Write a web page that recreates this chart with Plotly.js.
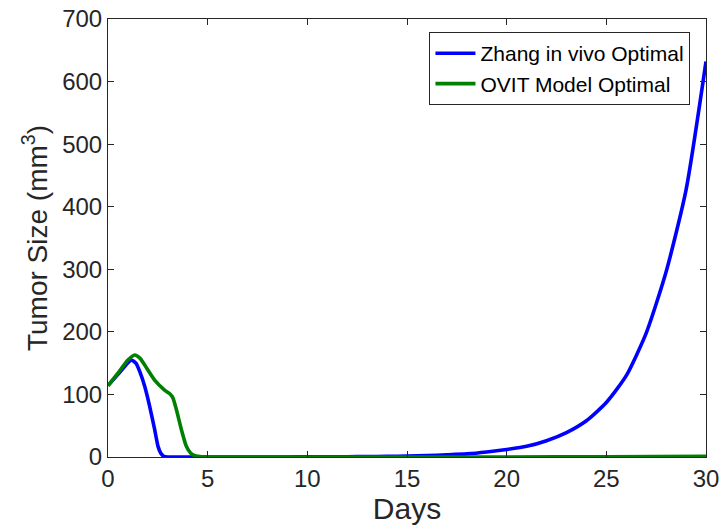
<!DOCTYPE html>
<html>
<head>
<meta charset="utf-8">
<script src="https://cdn.plot.ly/plotly-3.0.1.min.js"></script>
<style>html,body{margin:0;padding:0;background:#fff;}#chart{width:722px;height:525px;}</style>
</head>
<body>
<div id="chart"></div>
<script>
// Zhang in vivo Optimal (blue)
const zhangDays = [0, 0.5, 0.9, 1.17, 1.4, 1.6, 1.84, 2.09, 2.34, 2.51, 2.65, 2.8, 3, 4, 5, 6, 7, 8, 9, 10, 11, 12, 13, 14, 15, 16, 17, 18, 19, 20, 21, 22, 23, 24, 25, 26, 27, 28, 29, 30];
const zhangSize = [114, 132, 147, 155, 150, 136, 113, 81, 44, 17, 6, 1, 0, 0, 0, 0, 0, 0.1, 0.1, 0.2, 0.3, 0.5, 0.7, 1, 1.5, 2.3, 3.5, 5, 8, 12, 17, 26, 39, 58, 87, 130, 198, 296, 427, 632];
// OVIT Model Optimal (green)
const ovitDays = [0, 0.5, 1.0, 1.34, 1.6, 1.84, 2.34, 2.84, 3.1, 3.25, 3.43, 3.68, 3.93, 4.15, 4.4, 4.7, 5, 10, 15, 20, 25, 30];
const ovitSize = [114, 134, 155, 163, 158, 147, 123, 107, 101, 95, 76, 44, 17, 6, 1.5, 0.3, 0, 0, 0, 0, 0.3, 1];

const xTicks = [0, 5, 10, 15, 20, 25, 30];
const yTicks = [0, 100, 200, 300, 400, 500, 600, 700];

const axisColor = '#262626';
const font = 'Liberation Sans, Arial, Helvetica, sans-serif';

const traces = [
  {x: zhangDays, y: zhangSize, type: 'scatter', mode: 'lines', name: 'Zhang in vivo Optimal',
   line: {color: '#0000FF', width: 3.6, shape: 'spline', smoothing: 0.6}},
  {x: ovitDays, y: ovitSize, type: 'scatter', mode: 'lines', name: 'OVIT Model Optimal',
   line: {color: '#008000', width: 3.6, shape: 'spline', smoothing: 0.6}}
];

const layout = {
  width: 722, height: 525,
  margin: {l: 108, r: 16, t: 18.5, b: 67.5},
  paper_bgcolor: '#fff', plot_bgcolor: '#fff',
  font: {family: font, color: axisColor},
  showlegend: true,
  legend: {x: 0.974, xanchor: 'right', y: 0.97, yanchor: 'top',
    bgcolor: '#fff', bordercolor: '#262626', borderwidth: 1,
    font: {family: font, size: 21, color: '#000'}, tracegroupgap: 0, itemwidth: 40},
  xaxis: {range: [0, 30], tickvals: xTicks, ticktext: xTicks.map(String),
    showgrid: false, zeroline: false, showline: true, linecolor: axisColor, linewidth: 1,
    mirror: 'ticks', ticks: 'inside', ticklen: 6, tickcolor: axisColor, tickwidth: 1,
    tickfont: {family: font, size: 24, color: axisColor},
    title: {text: 'Days', font: {family: font, size: 30, color: axisColor}, standoff: 4}},
  yaxis: {range: [0, 700], tickvals: yTicks, ticktext: yTicks.map(String),
    showgrid: false, zeroline: false, showline: true, linecolor: axisColor, linewidth: 1,
    mirror: 'ticks', ticks: 'inside', ticklen: 6, tickcolor: axisColor, tickwidth: 1,
    tickfont: {family: font, size: 24, color: axisColor},
    title: {text: 'Tumor Size (mm<sup>3</sup>)', font: {family: font, size: 28, color: axisColor}, standoff: 6}}
};

Plotly.newPlot('chart', traces, layout, {staticPlot: true, displayModeBar: false});
</script>
</body>
</html>
